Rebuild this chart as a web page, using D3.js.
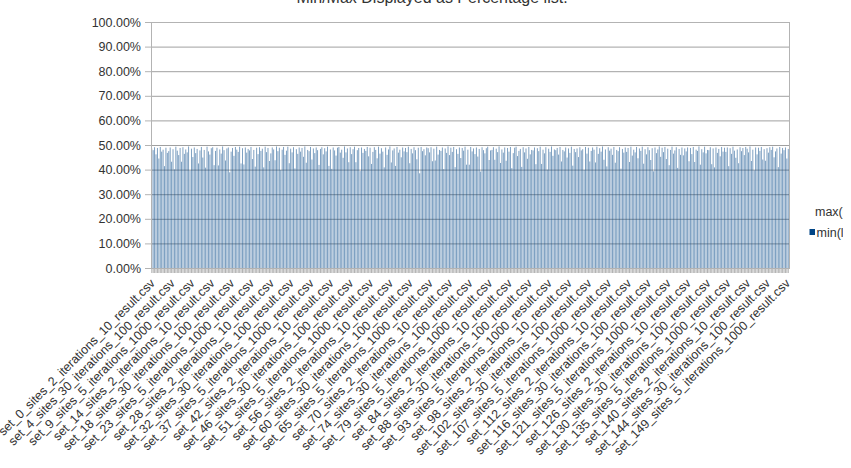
<!DOCTYPE html>
<html>
<head>
<meta charset="utf-8">
<script src="https://cdn.jsdelivr.net/npm/d3@7"></script>
<style>
  body { margin: 0; background: #fff; overflow: hidden; }
  text { font-family: "Liberation Sans", Arial, sans-serif; }
</style>
</head>
<body>
<script>
// categories: 150 sets, each with 3 (sites, iterations) runs
const setIds = d3.range(150);
const runs = [['2', '10'], ['5', '1000'], ['30', '100']];
const yTicks = [0, 10, 20, 30, 40, 50, 60, 70, 80, 90, 100];
const labelEvery = 14;

// min(list) in percent
const minValues = [
  48.6,47.9,49.1,46.2,48.8,44.5,49.2,47.3,48.1,41.4,48.9,46.8,47.5,49.0,43.2,
  48.3,40.1,49.3,47.7,45.9,48.8,43.2,49.1,46.4,48.2,47.0,49.4,39.6,48.5,45.1,
  49.0,46.7,48.4,42.5,47.8,49.2,44.9,48.0,40.8,49.3,47.4,46.1,48.7,49.1,41.8,
  47.6,48.9,41.7,48.2,46.5,49.4,47.9,43.7,48.6,49.0,38.9,47.3,48.8,45.6,49.2,
  48.1,47.2,49.3,42.5,48.7,42.1,49.0,46.9,48.4,47.8,49.2,44.3,48.0,41.2,48.9,
  46.3,49.1,47.6,48.5,40.9,49.3,47.1,48.8,43.5,46.6,49.0,48.2,43.8,49.4,47.5,
  48.9,39.8,48.1,49.2,46.0,47.7,49.3,42.6,48.5,47.0,49.1,40.5,48.3,46.4,49.0,
  47.3,48.8,45.2,49.4,42.8,48.0,47.5,49.2,44.1,48.6,46.7,49.0,47.9,41.9,48.4,
  49.1,46.2,48.7,47.4,49.3,41.5,48.2,40.3,49.0,47.8,45.7,48.9,49.2,46.9,48.1,
  44.8,49.4,47.0,48.6,43.0,49.1,46.3,48.3,49.3,43.0,47.9,48.8,39.4,49.0,46.8,
  48.4,47.6,49.2,45.4,48.9,42.3,47.2,49.1,48.0,44.6,49.3,46.5,48.7,47.3,40.9,
  49.0,46.0,48.2,49.4,42.9,47.8,48.6,41.5,49.2,46.9,48.1,45.0,49.0,47.4,48.8,
  47.1,49.3,42.6,48.4,46.6,49.1,47.9,44.2,48.9,38.5,49.2,47.5,48.3,45.8,49.0,
  48.7,47.0,49.1,43.4,48.5,43.7,49.3,46.1,48.0,47.6,49.0,40.2,48.6,46.8,49.4,
  45.9,48.9,47.2,49.2,41.0,48.3,46.4,49.0,44.7,48.8,47.7,49.3,42.0,48.1,42.0,
  49.2,47.4,48.6,46.3,49.0,45.3,48.4,39.2,49.1,47.9,46.6,48.7,49.3,43.9,47.8,
  48.0,49.1,44.0,48.5,47.1,49.4,42.7,48.2,46.9,49.0,43.6,48.8,47.3,49.2,40.6,
  46.7,48.9,49.3,45.5,47.6,48.4,41.1,49.1,47.0,48.6,44.4,49.2,46.2,48.0,47.8,
  49.0,42.2,48.7,47.5,49.3,42.3,48.1,46.6,49.1,40.0,48.5,47.2,49.4,45.6,48.2,
  47.9,48.8,46.1,49.2,43.3,48.0,47.4,49.0,44.9,48.6,46.8,49.3,41.6,48.4,47.1,
  48.6,45.1,49.1,47.8,48.3,39.9,49.2,46.5,48.9,43.3,47.6,49.0,48.1,42.9,49.3,
  46.4,48.7,47.3,49.4,44.0,48.2,41.3,49.1,47.7,48.5,46.0,49.2,42.8,48.0,47.5,
  49.1,40.4,48.4,46.9,49.0,47.2,48.8,43.1,49.3,45.7,48.1,47.0,49.2,44.6,48.6,
  47.6,49.3,42.4,48.3,46.2,49.1,47.9,43.9,48.7,39.3,49.0,46.7,48.2,49.4,45.2,
  48.9,47.1,49.2,44.3,48.5,41.8,48.0,49.3,46.5,47.8,49.1,40.7,48.4,46.0,49.0,
  45.8,48.6,47.4,49.0,43.4,48.8,46.3,49.2,43.1,48.1,47.6,49.4,42.0,48.3,47.0,
  49.3,46.6,48.0,47.9,49.1,42.2,48.6,40.9,49.0,46.8,48.4,45.4,49.2,47.3,48.9,
  47.2,49.0,41.4,48.7,46.4,49.3,47.7,44.8,48.2,42.6,49.1,47.5,48.8,45.9,49.2,
  48.5,47.0,49.4,43.5,48.1,39.7,49.0,46.2,48.9,47.6,49.2,44.1,48.3,43.6,48.7,
  46.9,49.1,48.0,49.3,45.0,47.4,48.6,41.0,49.2,46.5,48.8,47.9,49.0,44.5,48.4
];

const categories = [];
setIds.forEach(s => runs.forEach(r => {
  categories.push(`set_${s}_sites_${r[0]}_iterations_${r[1]}_result.csv`);
}));

const svgWidth = 851;
const svgHeight = 468;
const margin = { top: 22, right: 62, bottom: 200, left: 151 };
const width = svgWidth - margin.left - margin.right;
const height = svgHeight - margin.top - margin.bottom;

const xScale = d3.scaleBand().domain(categories).range([0, width]).paddingInner(0.35).paddingOuter(0.2);
const yScale = d3.scaleLinear().domain([0, 100]).range([height, 0]);

const svg = d3.select('body')
  .append('svg')
  .attr('width', svgWidth)
  .attr('height', svgHeight);

// title, mostly above the top edge
svg.append('text')
  .attr('x', 432)
  .attr('y', 3)
  .attr('text-anchor', 'middle')
  .attr('font-size', 16)
  .attr('fill', '#333')
  .text('Min/Max Displayed as Percentage list.');

const chart = svg.append('g')
  .attr('transform', `translate(${margin.left}, ${margin.top})`);

// horizontal grid lines
chart.append('g')
  .call(
    d3.axisLeft(yScale)
      .tickValues(yTicks)
      .tickSize(-width)
      .tickFormat('')
      .tickSizeOuter(0)
  )
  .call(g => g.select('.domain').remove())
  .selectAll('.tick line')
  .attr('stroke', '#a0a0a0')
  .attr('stroke-width', 1);

// bars
chart.selectAll('rect.bar')
  .data(minValues)
  .enter().append('rect')
  .attr('class', 'bar')
  .attr('x', (d, i) => xScale(categories[i]))
  .attr('width', xScale.bandwidth())
  .attr('y', d => yScale(d))
  .attr('height', d => height - yScale(d))
  .attr('fill', '#004586')
  .attr('fill-opacity', 0.55);

// plot border
chart.append('rect')
  .attr('x', 0.5)
  .attr('y', 0.5)
  .attr('width', width)
  .attr('height', height)
  .attr('fill', 'none')
  .attr('stroke', '#b3b3b3');

// y axis
chart.append('g')
  .call(
    d3.axisLeft(yScale)
      .tickValues(yTicks)
      .tickSize(6)
      .tickPadding(4)
      .tickFormat(d => d.toFixed(2) + '%')
  )
  .call(g => g.select('.domain').attr('stroke', '#b3b3b3'))
  .call(g => g.selectAll('.tick line').attr('stroke', '#b3b3b3'))
  .selectAll('text')
  .attr('font-family', '"Liberation Sans", Arial, sans-serif')
  .attr('font-size', 12.5)
  .attr('fill', '#333');

// x axis
chart.append('g')
  .attr('transform', `translate(0, ${height})`)
  .call(
    d3.axisBottom(xScale)
      .tickSize(5)
      .tickSizeOuter(0)
      .tickFormat((d, i) => i % labelEvery === 0 ? d : '')
  )
  .call(g => g.select('.domain').attr('stroke', '#b3b3b3'))
  .call(g => g.selectAll('.tick line').attr('stroke', '#b3b3b3'))
  .selectAll('text')
  .attr('font-family', '"Liberation Sans", Arial, sans-serif')
  .attr('font-size', 12.5)
  .attr('fill', '#333')
  .style('text-anchor', 'end')
  .attr('x', 0)
  .attr('y', 0)
  .attr('dy', 0)
  .attr('transform', 'translate(4, 16) rotate(-45)');

// legend, cut by the chart's own right edge
svg.append('clipPath')
  .attr('id', 'legend-clip')
  .append('rect')
  .attr('x', 790).attr('y', 190).attr('width', 53).attr('height', 60);

const legend = svg.append('g')
  .attr('clip-path', 'url(#legend-clip)')
  .attr('font-size', 12.5)
  .attr('fill', '#333');
legend.append('text').attr('x', 815).attr('y', 216).text('max(list)');
legend.append('rect').attr('x', 809.5).attr('y', 229).attr('width', 5.5).attr('height', 6).attr('fill', '#004586');
legend.append('text').attr('x', 816.5).attr('y', 237).text('min(list)');
</script>
</body>
</html>
